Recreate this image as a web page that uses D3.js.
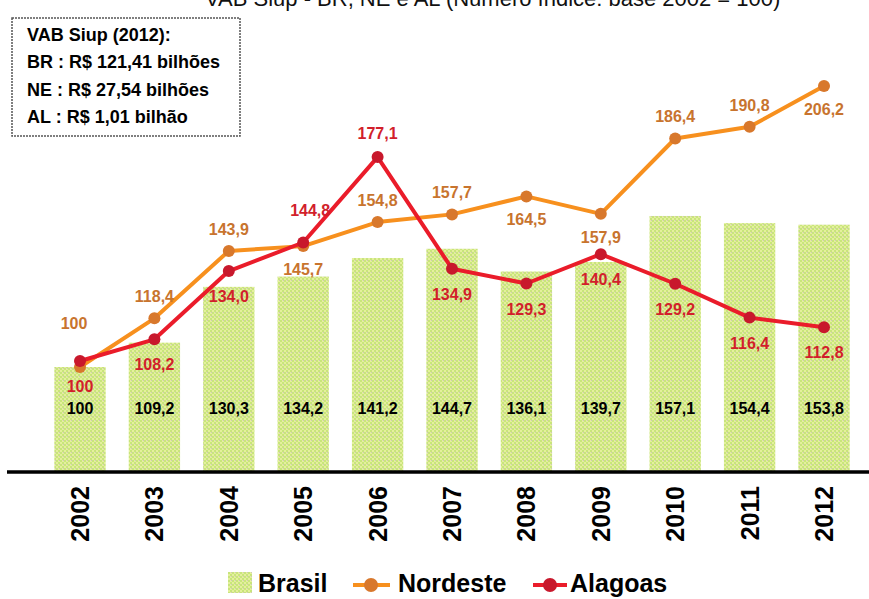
<!DOCTYPE html>
<html><head><meta charset="utf-8">
<script src="https://cdn.jsdelivr.net/npm/d3@7"></script>
<style>body{margin:0;background:#fff}svg{display:block}</style>
</head><body>
<svg id="c" width="869" height="599"></svg>
<script>
const years = ["2002","2003","2004","2005","2006","2007","2008","2009","2010","2011","2012"];
const brasil = [100,109.2,130.3,134.2,141.2,144.7,136.1,139.7,157.1,154.4,153.8];
const nordeste = [100,118.4,143.9,145.7,154.8,157.7,164.5,157.9,186.4,190.8,206.2];
const alagoas = [100,108.2,134.0,144.8,177.1,134.9,129.3,140.4,129.2,116.4,112.8];
const nePlace = ["high","above","above","below","above","above","below","below","above","above","below"];
const alPlace = ["below","below","below","high","above","below","below","below","below","below","below"];
const boxLines = ["VAB Siup (2012):","BR : R$ 121,41 bilhões","NE : R$ 27,54 bilhões","AL  : R$ 1,01 bilhão"];
const legendNames = ["Brasil","Nordeste","Alagoas"];
const titleText = "VAB Siup - BR, NE e AL (Número índice: base 2002 = 100)";

const lab = v => v===100 ? "100" : d3.format(".1f")(v).replace(".", ",");

const svg = d3.select("#c");
const defs = svg.append("defs");
const pat = defs.append("pattern").attr("id","grn").attr("patternUnits","userSpaceOnUse")
  .attr("width",4).attr("height",4);
pat.append("rect").attr("width",4).attr("height",4).attr("fill","#e4f09c");
pat.append("rect").attr("x",0).attr("y",0).attr("width",2).attr("height",2).attr("fill","#c8e47c");
pat.append("rect").attr("x",2).attr("y",2).attr("width",2).attr("height",2).attr("fill","#c8e47c");
pat.append("rect").attr("x",3).attr("y",0).attr("width",1).attr("height",1).attr("fill","#cfc6bc");

const x = d3.scaleBand().domain(years).range([42.8, 861.2]).paddingInner(0.31).paddingOuter(0.155);
const y = d3.scaleLinear().domain([60,220]).range([472.8, 49.6]);
const yAL = d3.scaleLinear().domain([60,220]).range([466.8, 43.6]);
const cx = d => x(d) + x.bandwidth()/2;

// title (cut off at top, as in the source)
svg.append("text").attr("x",205).attr("y",6).attr("text-anchor","start")
  .attr("font-family","Liberation Sans, Arial, sans-serif").attr("font-size",22)
  .attr("fill","#111").text(titleText);

// bars
svg.append("g").selectAll("rect").data(years).join("rect")
  .attr("x", d=>x(d)).attr("width", x.bandwidth())
  .attr("y", (d,i)=>y(brasil[i])).attr("height",(d,i)=>y(60)-y(brasil[i]))
  .attr("fill","url(#grn)");

// brasil labels
svg.append("g").selectAll("text").data(years).join("text")
  .attr("x", d=>cx(d)).attr("y", 414).attr("text-anchor","middle")
  .attr("font-family","Liberation Sans, Arial, sans-serif").attr("font-weight","bold").attr("font-size",16)
  .attr("fill","#000").text((d,i)=>lab(brasil[i]));

// axis baseline
const xAxis = d3.axisBottom(x).tickSize(0).tickFormat("");
const ax = svg.append("g").attr("transform","translate(0,472)").call(xAxis);
ax.select(".domain").remove();
svg.append("line").attr("x1",7).attr("x2",869).attr("y1",472).attr("y2",472)
  .attr("stroke","#000").attr("stroke-width",3.5);

// year labels
svg.append("g").selectAll("text").data(years).join("text")
  .attr("transform", d=>`translate(${cx(d)+9},486) rotate(-90)`)
  .attr("text-anchor","end")
  .attr("font-family","Liberation Sans, Arial, sans-serif").attr("font-weight","bold").attr("font-size",25)
  .attr("fill","#000").text(d=>d);

// lines
function drawSeries(vals, sc, lineCol, markCol, labCol, place, off, dxHigh){
  const line = d3.line().x((d,i)=>cx(years[i])).y(d=>sc(d));
  svg.append("path").datum(vals).attr("d",line).attr("fill","none")
    .attr("stroke",lineCol).attr("stroke-width",4).attr("stroke-linejoin","round");
  svg.append("g").selectAll("circle").data(vals).join("circle")
    .attr("cx",(d,i)=>cx(years[i])).attr("cy",d=>sc(d)).attr("r",6).attr("fill",markCol);
  svg.append("g").selectAll("text").data(vals).join("text")
    .attr("x",(d,i)=>cx(years[i]) + (place[i]==="high"?dxHigh:0))
    .attr("y",(d,i)=>sc(d)+off[place[i]])
    .attr("text-anchor","middle")
    .attr("font-family","Liberation Sans, Arial, sans-serif").attr("font-weight","bold").attr("font-size",16)
    .attr("fill",labCol).text(d=>lab(d));
}
drawSeries(nordeste, y, "#f7901e", "#d8782c", "#c8742e", nePlace, {above:-16, below:29, high:-38}, -6);
drawSeries(alagoas, yAL, "#ea1c2a", "#c8182c", "#d21f2b", alPlace, {above:-18, below:31, high:-27}, 7);

// info box
svg.append("rect").attr("x",12).attr("y",18).attr("width",228).attr("height",118)
  .attr("fill","#fff").attr("stroke","#555").attr("stroke-width",1.5).attr("stroke-dasharray","2,1");
svg.append("g").selectAll("text").data(boxLines).join("text")
  .attr("x",27).attr("y",(d,i)=>41 + i*27.3)
  .attr("font-family","Liberation Sans, Arial, sans-serif").attr("font-weight","bold").attr("font-size",18)
  .attr("fill","#000").text(d=>d);

// legend
const lg = svg.append("g").attr("font-family","Liberation Sans, Arial, sans-serif")
  .attr("font-weight","bold").attr("font-size",25);
lg.append("rect").attr("x",228).attr("y",572).attr("width",24).attr("height",21).attr("fill","url(#grn)");
lg.append("text").attr("x",258).attr("y",592).text(legendNames[0]);
lg.append("line").attr("x1",353).attr("x2",390).attr("y1",585).attr("y2",585).attr("stroke","#f7901e").attr("stroke-width",4);
lg.append("circle").attr("cx",371).attr("cy",585).attr("r",7).attr("fill","#d8782c");
lg.append("text").attr("x",398).attr("y",592).text(legendNames[1]);
lg.append("line").attr("x1",533).attr("x2",567).attr("y1",585).attr("y2",585).attr("stroke","#ea1c2a").attr("stroke-width",4);
lg.append("circle").attr("cx",550).attr("cy",585).attr("r",7).attr("fill","#c8182c");
lg.append("text").attr("x",570).attr("y",592).text(legendNames[2]);
</script>
</body></html>
